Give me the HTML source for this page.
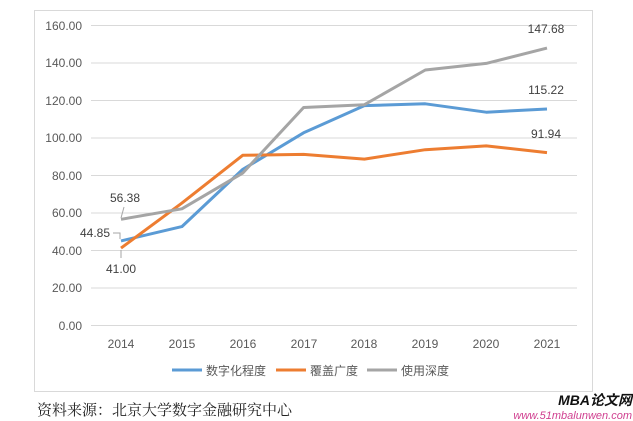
<!DOCTYPE html>
<html><head><meta charset="utf-8"><style>
body{margin:0;background:#fff;width:633px;height:421px;overflow:hidden}
svg{display:block}
</style></head><body>
<svg width="633" height="421" xmlns="http://www.w3.org/2000/svg" font-family="Liberation Sans, Noto Sans CJK SC, sans-serif">
<rect x="34.5" y="10.5" width="558" height="381" fill="#fff" stroke="#d9d9d9"/>
<g stroke="#d9d9d9" stroke-width="1">
<line x1="91" x2="577" y1="25.5" y2="25.5"/><line x1="91" x2="577" y1="63" y2="63"/>
<line x1="91" x2="577" y1="100.5" y2="100.5"/><line x1="91" x2="577" y1="138" y2="138"/>
<line x1="91" x2="577" y1="175.5" y2="175.5"/><line x1="91" x2="577" y1="213" y2="213"/>
<line x1="91" x2="577" y1="250.5" y2="250.5"/><line x1="91" x2="577" y1="288" y2="288"/>
<line x1="91" x2="577" y1="325.5" y2="325.5"/>
</g>
<g font-size="12" fill="#595959" text-anchor="end">
<text x="82" y="30">160.00</text><text x="82" y="67">140.00</text><text x="82" y="105">120.00</text>
<text x="82" y="142">100.00</text><text x="82" y="180">80.00</text><text x="82" y="217">60.00</text>
<text x="82" y="255">40.00</text><text x="82" y="292">20.00</text><text x="82" y="330">0.00</text>
</g>
<g font-size="12" fill="#595959" text-anchor="middle">
<text x="121" y="348">2014</text><text x="182" y="348">2015</text><text x="243" y="348">2016</text>
<text x="304" y="348">2017</text><text x="364" y="348">2018</text><text x="425" y="348">2019</text>
<text x="486" y="348">2020</text><text x="547" y="348">2021</text>
</g>
<g fill="none" stroke-width="3" stroke-linejoin="round">
<polyline stroke="#5b9bd5" points="121,240.9 181.9,226.6 242.7,169.4 303.6,132.8 364.4,105.6 425.3,103.8 486.2,112.2 547,109"/>
<polyline stroke="#ed7d31" points="121,248.1 181.9,203.1 242.7,155.3 303.6,154.4 364.4,159.1 425.3,149.7 486.2,145.9 547,152.6"/>
<polyline stroke="#a5a5a5" points="121,219.3 181.9,208.8 242.7,173.1 303.6,107.5 364.4,104.7 425.3,70 486.2,63.4 547,48.1"/>
</g>
<g stroke="#a6a6a6" fill="none" stroke-width="1">
<polyline points="121,218 124,207"/>
<polyline points="113,233 120,233 120,239"/>
<polyline points="121,250 121,258"/>
</g>
<g font-size="12" fill="#404040" text-anchor="middle">
<text x="125" y="202">56.38</text>
<text x="95" y="237">44.85</text>
<text x="121" y="273">41.00</text>
<text x="546" y="33">147.68</text>
<text x="546" y="94">115.22</text>
<text x="546" y="138">91.94</text>
</g>
<g font-size="12" fill="#595959">
<line x1="172" y1="370" x2="202" y2="370" stroke="#5b9bd5" stroke-width="3"/>
<text x="206" y="375">数字化程度</text>
<line x1="276" y1="370" x2="306" y2="370" stroke="#ed7d31" stroke-width="3"/>
<text x="310" y="375">覆盖广度</text>
<line x1="367" y1="370" x2="397" y2="370" stroke="#a5a5a5" stroke-width="3"/>
<text x="401" y="375">使用深度</text>
</g>
<text x="37" y="415" font-size="15" fill="#222" font-family="Liberation Serif, Noto Serif CJK SC, serif">资料来源：北京大学数字金融研究中心</text>
<text x="632" y="405" font-size="14" font-weight="bold" font-style="italic" fill="#111" text-anchor="end">MBA论文网</text>
<text x="632" y="419" font-size="11" font-style="italic" fill="#d04090" text-anchor="end">www.51mbalunwen.com</text>
</svg>
</body></html>
